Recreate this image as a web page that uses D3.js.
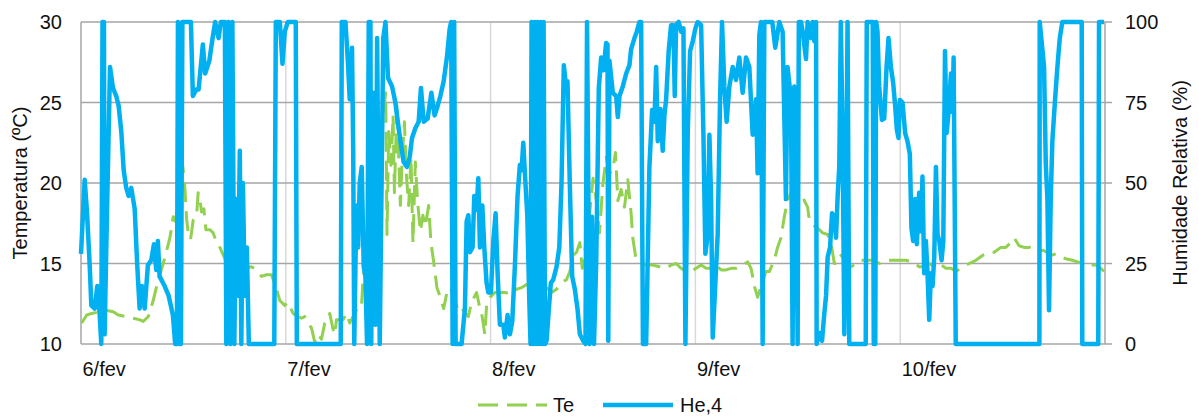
<!DOCTYPE html>
<html>
<meta charset="utf-8">
<title>Te / He,4</title>
<style>
  body { margin: 0; background: #fff; }
  text { font-family: "Liberation Sans", Arial, sans-serif; fill: #111; }
  .grid-h { stroke: #a6a6a6; stroke-width: 1.5; }
  .grid-v { stroke: #d9d9d9; stroke-width: 1.5; }
  .frame { stroke: #a6a6a6; stroke-width: 1.5; }
  .lineTe { fill: none; stroke: #92D050; stroke-width: 3; stroke-dasharray: 20,9; stroke-linejoin: round; }
  .lineHe { fill: none; stroke: #00B0F0; stroke-width: 4.5; stroke-linejoin: round; }
</style>
<body>
<div id="chart"></div>
<script src="https://d3js.org/d3.v7.min.js"></script>
<script>
// hours since 6/fev 00:00
var dayLabels = ["6/fev", "7/fev", "8/fev", "9/fev", "10/fev"];
var dayStarts = [0, 24, 48, 72, 96];
var tempTicks = [10, 15, 20, 25, 30];
var humTicks = [0, 25, 50, 75, 100];

// Te (ºC)
var teData = [[0.08,11.3],[0.67,11.8],[1.25,11.9],[2.22,12.0],[2.93,12.1],[3.78,12.0],[4.37,11.8],[5.35,11.7],[6.12,11.6],[6.91,11.5],[7.29,11.4],[7.88,11.7],[8.46,12.7],[9.05,14.0],[9.64,15.0],[10.03,15.8],[10.42,16.6],[10.81,17.9],[11.09,17.6],[11.39,19.0],[11.91,21.2],[12.18,19.6],[12.37,17.8],[12.56,16.9],[12.84,16.5],[13.15,17.7],[13.55,18.0],[13.73,19.4],[13.93,19.0],[14.13,18.2],[14.40,18.4],[14.63,17.1],[15.10,17.1],[15.49,16.9],[15.89,16.3],[16.27,16.0],[16.86,15.3],[17.44,14.8],[18.03,14.6],[18.61,14.6],[19.20,14.7],[19.98,14.8],[20.57,14.6],[21.15,14.2],[21.74,14.3],[22.33,14.3],[22.91,13.4],[23.30,12.7],[23.88,12.4],[24.27,12.6],[24.85,11.9],[25.44,11.7],[25.84,11.6],[26.22,11.7],[26.61,11.3],[27.01,11.0],[27.40,10.1],[27.78,10.6],[28.18,10.3],[28.57,11.3],[28.95,11.5],[29.15,11.9],[29.54,10.9],[29.74,10.6],[29.94,11.5],[30.71,11.5],[31.11,11.9],[31.49,11.3],[31.88,11.7],[32.46,12.3],[32.86,12.3],[33.05,14.0],[33.45,15.6],[33.83,17.9],[34.22,19.8],[34.62,20.6],[35.00,19.4],[35.39,24.1],[35.71,25.6],[35.86,16.8],[36.06,23.2],[36.33,21.1],[36.57,24.2],[36.73,19.4],[37.03,25.0],[37.23,21.7],[37.43,18.6],[37.62,21.3],[37.90,23.8],[38.13,20.5],[38.40,18.6],[38.67,21.6],[38.90,16.3],[39.18,21.3],[39.45,18.8],[39.77,17.0],[40.07,18.0],[40.35,17.3],[40.74,18.6],[41.01,16.3],[41.33,15.1],[41.71,13.5],[42.11,12.9],[42.50,12.2],[42.88,13.2],[43.28,13.5],[43.67,12.9],[44.25,12.0],[44.64,12.2],[45.39,11.7],[45.77,12.6],[46.36,13.2],[46.75,12.2],[46.95,11.9],[47.33,10.6],[47.53,12.4],[47.92,12.9],[48.50,13.2],[49.09,13.2],[49.67,13.2],[50.46,13.1],[51.04,13.4],[51.63,13.5],[52.21,13.7],[52.80,13.6],[53.74,13.7],[54.56,13.5],[55.14,13.2],[55.73,13.4],[56.31,13.8],[56.90,14.0],[57.28,14.5],[57.68,15.5],[58.07,15.7],[58.46,16.3],[58.74,14.7],[59.24,16.5],[59.59,18.0],[60.00,20.3],[60.38,18.9],[60.76,16.9],[61.15,19.9],[61.55,21.6],[61.93,20.6],[62.32,20.8],[62.63,21.9],[62.91,18.9],[63.30,19.6],[63.69,18.5],[64.08,20.2],[64.47,18.1],[64.66,16.6],[65.06,15.2],[65.44,15.1],[66.23,14.9],[67.01,14.9],[67.79,14.8],[68.57,14.7],[69.15,14.9],[69.74,15.0],[70.33,14.7],[70.91,14.5],[71.50,14.5],[72.08,14.7],[72.67,14.9],[73.26,14.7],[73.84,14.7],[74.42,14.9],[75.01,14.6],[75.59,14.6],[76.18,14.7],[76.76,14.7],[77.54,14.9],[78.13,15.1],[78.52,14.7],[78.91,13.6],[79.29,12.9],[79.69,13.6],[80.28,14.5],[80.66,14.5],[81.24,15.2],[81.63,16.0],[82.03,16.6],[82.42,17.9],[82.80,18.9],[83.20,19.4],[83.59,19.5],[83.98,19.2],[84.38,19.4],[84.77,18.9],[85.15,18.5],[85.35,17.7],[85.74,17.4],[86.33,17.2],[86.91,16.9],[87.50,16.8],[87.89,16.3],[88.28,15.0],[88.67,15.0],[89.07,15.5],[89.65,15.1],[90.24,14.8],[90.82,15.0],[91.21,15.2],[92.00,15.2],[92.76,15.2],[93.54,15.0],[94.33,15.2],[95.11,15.2],[95.88,15.2],[96.67,15.2],[97.45,15.1],[98.22,14.8],[98.81,14.8],[99.40,15.0],[99.99,14.8],[100.58,15.0],[101.36,14.7],[101.95,14.7],[102.53,14.5],[103.31,14.8],[104.09,15.0],[104.87,15.2],[105.65,15.5],[106.43,15.7],[107.02,15.7],[107.79,16.0],[108.38,16.0],[108.77,16.2],[109.35,16.6],[109.93,16.1],[110.52,16.0],[111.10,16.0],[111.69,16.1],[112.27,15.8],[112.86,15.8],[113.64,15.5],[114.23,15.6],[114.82,15.4],[115.40,15.3],[116.18,15.2],[116.77,15.1],[117.36,15.0],[118.14,14.9],[118.93,14.9],[119.51,14.7],[119.88,14.5]];

// He,4 (%)
var heData = [[0,28],[0.43,51],[0.70,41],[1.02,24.5],[1.21,12],[1.60,11],[1.91,18],[2.19,9],[2.38,0],[2.52,100],[2.69,100],[2.77,3],[3.04,40],[3.40,86],[3.75,79.5],[4.13,77],[4.41,74],[4.72,66],[5.00,54],[5.30,48.5],[5.58,46],[5.89,48.5],[6.29,42],[6.59,24.5],[6.87,11],[7.14,18],[7.46,11],[7.84,24.5],[8.23,26],[8.55,31],[8.82,23],[9.01,32],[9.21,21],[9.80,18],[10.27,15],[10.77,9],[11.04,0],[11.24,0],[11.36,100],[11.53,0],[11.71,0],[11.88,100],[12.88,100],[13.11,77],[13.50,79],[13.78,79],[14.28,93],[14.55,84],[15.04,88],[15.42,95],[15.72,100],[16.12,95],[16.39,100],[16.86,100],[17.03,0],[17.27,100],[17.50,0],[17.74,100],[17.97,0],[18.15,45],[18.38,15],[18.61,60],[18.79,0],[18.97,50],[19.20,15],[19.43,30],[19.67,0],[22.65,0],[22.83,100],[23.30,100],[23.61,87],[23.88,97],[24.23,100],[25.17,100],[25.29,0],[30.44,0],[30.56,100],[30.99,100],[31.29,87],[31.49,76],[31.76,92],[31.90,60],[32.02,0],[32.27,43],[32.48,30],[32.66,50],[32.90,55],[33.13,24],[33.33,21],[33.52,0],[33.72,100],[33.92,100],[34.01,0],[34.23,78],[34.51,6],[34.70,95],[35.01,0],[35.42,95],[35.68,100],[35.98,82.6],[36.45,80],[36.84,75],[37.03,71],[37.43,63],[37.81,56.5],[38.20,55],[38.52,58],[38.79,64],[39.18,67],[39.57,69],[39.84,79.5],[40.16,69],[40.62,70],[41.06,78],[41.44,71],[41.80,74],[42.11,77],[42.50,81.6],[42.88,89],[43.20,97.8],[43.38,100],[43.55,0],[43.73,100],[43.90,0],[44.60,0],[44.99,11],[45.19,38],[45.39,40],[45.58,28.5],[45.89,30],[46.09,46],[46.36,41.6],[46.56,51.5],[46.75,30],[47.03,43],[47.26,30],[47.53,19],[47.73,16],[48.04,16],[48.32,32],[48.59,40.6],[48.82,22],[49.09,6],[49.49,6],[49.67,2],[49.99,9],[50.26,3],[50.54,7],[50.85,24.5],[51.16,46],[51.43,55.6],[51.63,54],[51.83,62.5],[52.02,53],[52.30,40],[52.53,14],[52.68,0],[52.80,100],[52.98,0],[53.15,100],[53.33,0],[53.50,100],[53.68,0],[53.85,100],[54.03,0],[54.21,100],[54.38,0],[54.56,1],[54.83,11],[55.06,19],[55.34,20],[55.73,24],[56.05,30],[56.31,50],[56.58,86.6],[56.78,81.6],[57.01,81.6],[57.28,50],[57.56,21],[57.87,17],[58.18,11],[58.46,3],[58.85,1],[59.12,0],[59.30,100],[59.59,0],[59.88,39.5],[60.12,0],[60.38,26],[60.68,79.5],[60.96,89],[61.23,85],[61.54,93.5],[61.70,93],[61.79,1],[61.93,88],[62.32,78],[62.72,77],[62.91,70.5],[63.10,77],[63.49,80],[63.89,84],[64.27,86.6],[64.47,91.6],[64.86,95],[65.13,97],[65.44,100],[65.64,100],[65.85,0],[66.23,0],[66.61,55],[66.93,72.7],[67.20,69],[67.40,86],[67.59,63],[67.90,73],[68.17,60],[68.37,71],[68.57,76],[68.87,91],[69.15,99],[69.42,99],[69.58,77],[69.74,99],[70.04,100],[70.33,97],[70.60,98],[70.83,0],[71.10,65.5],[71.38,91],[71.69,94],[72.00,98],[72.27,100],[72.67,99],[72.94,65],[73.17,28],[73.44,34],[73.64,65],[73.84,45],[74.03,2],[74.34,19],[74.61,34],[74.89,76],[75.12,100],[75.39,80],[75.66,69],[75.98,80],[76.37,86],[76.76,82],[77.15,89],[77.54,78],[77.93,89],[78.32,86],[78.71,65],[79.11,76],[79.29,53],[79.49,96],[79.69,100],[79.88,0],[80.08,100],[80.66,100],[81.01,100],[81.36,92],[81.83,100],[82.22,97],[82.61,45],[82.80,86],[83.20,76],[83.39,0],[83.59,80],[83.79,76],[83.98,0],[84.12,100],[84.38,100],[84.57,97],[84.96,88.5],[85.15,100],[85.55,95],[85.74,100],[85.94,94],[86.14,100],[86.21,0],[86.52,3.4],[86.84,1],[87.11,9.6],[87.31,15],[87.50,27],[87.78,30],[88.01,40.6],[88.28,39.5],[88.48,33],[88.67,46],[88.86,55],[89.04,100],[89.25,65],[89.45,3],[89.65,40],[89.83,100],[90.03,0],[91.96,0],[92.08,100],[92.78,100],[92.90,0],[93.08,0],[93.19,100],[93.34,97],[93.54,80],[93.86,69.6],[94.13,70],[94.40,86],[94.63,95],[94.91,86],[95.18,81],[95.41,74],[95.61,66.5],[95.80,64],[95.96,75.8],[96.27,75],[96.58,65.5],[96.85,63],[97.13,59],[97.32,36],[97.52,32],[97.75,45],[97.95,31],[98.22,47],[98.42,35],[98.61,52],[98.81,22],[99.01,32],[99.20,22],[99.40,7.5],[99.60,22],[99.79,18],[99.99,27],[100.19,55],[100.38,34],[100.58,32],[100.85,26],[101.05,32],[101.25,91],[101.44,65.5],[101.67,72],[101.95,84],[102.14,72],[102.26,89],[102.51,0],[112.31,0],[112.35,100],[112.86,86],[113.06,56],[113.25,45],[113.44,10.5],[113.64,45],[113.83,63],[114.15,76],[114.42,86],[114.70,95],[115.00,100],[117.27,100],[117.34,0],[119.21,0],[119.30,100],[119.88,100]];

var seriesNames = ["Te", "He,4"];

var width = 1199, height = 417;
var margin = {top: 22, right: 94, bottom: 73, left: 81};

var svg = d3.select("#chart").append("svg")
    .attr("width", width)
    .attr("height", height);

var x = d3.scaleLinear().domain([0, 120]).range([margin.left, width - margin.right]);
var yT = d3.scaleLinear().domain([10, 30]).range([height - margin.bottom, margin.top]);
var yH = d3.scaleLinear().domain([0, 100]).range([height - margin.bottom, margin.top]);

// vertical day gridlines
svg.append("g").selectAll("line")
    .data(dayStarts.slice(1))
  .enter().append("line")
    .attr("class", "grid-v")
    .attr("x1", function(d) { return x(d); })
    .attr("x2", function(d) { return x(d); })
    .attr("y1", yT(10))
    .attr("y2", yT(30));

// horizontal gridlines (extend a little right, like tick marks of the right axis)
svg.append("g").selectAll("line")
    .data(tempTicks)
  .enter().append("line")
    .attr("class", "grid-h")
    .attr("x1", x(0))
    .attr("x2", x(120) + 7)
    .attr("y1", function(d) { return yT(d); })
    .attr("y2", function(d) { return yT(d); });

// left and right frame lines
svg.append("g").selectAll("line")
    .data([0, 120])
  .enter().append("line")
    .attr("class", "frame")
    .attr("x1", function(d) { return x(d); })
    .attr("x2", function(d) { return x(d); })
    .attr("y1", yT(10))
    .attr("y2", yT(30));

// series
var lineTe = d3.line().x(function(d) { return x(d[0]); }).y(function(d) { return yT(d[1]); });
var lineHe = d3.line().x(function(d) { return x(d[0]); }).y(function(d) { return yH(d[1]); });

svg.append("path").datum(teData).attr("class", "lineTe").attr("d", lineTe);
svg.append("path").datum(heData).attr("class", "lineHe").attr("d", lineHe);

// left axis labels
svg.append("g").selectAll("text")
    .data(tempTicks)
  .enter().append("text")
    .attr("x", x(0) - 19)
    .attr("y", function(d) { return yT(d); })
    .attr("dy", "0.35em")
    .attr("text-anchor", "end")
    .style("font-size", "20px")
    .text(function(d) { return d; });

// right axis labels
svg.append("g").selectAll("text")
    .data(humTicks)
  .enter().append("text")
    .attr("x", x(120) + 20)
    .attr("y", function(d) { return yH(d); })
    .attr("dy", "0.35em")
    .attr("text-anchor", "start")
    .style("font-size", "20px")
    .text(function(d) { return d; });

// x axis labels
var xAxis = d3.axisBottom(x)
    .tickValues(dayStarts)
    .tickSize(0)
    .tickFormat(function(d, i) { return dayLabels[i]; });

var gx = svg.append("g")
    .attr("transform", "translate(0," + (height - margin.bottom) + ")")
    .call(xAxis);
gx.select(".domain").remove();
gx.selectAll("text")
    .attr("text-anchor", "start")
    .attr("x", 1)
    .attr("y", 18)
    .attr("dy", "0.71em")
    .style("font-family", "'Liberation Sans', Arial, sans-serif")
    .style("font-size", "20px")
    .style("fill", "#111");

// axis titles
svg.append("text")
    .attr("transform", "translate(20," + yT(20) + ") rotate(-90)")
    .attr("text-anchor", "middle")
    .attr("dy", "0.35em")
    .style("font-size", "20px")
    .text("Temperatura (ºC)");

svg.append("text")
    .attr("transform", "translate(1180," + yH(50) + ") rotate(-90)")
    .attr("text-anchor", "middle")
    .attr("dy", "0.35em")
    .style("font-size", "20px")
    .text("Humidade Relativa (%)");

// legend
var legend = svg.append("g").attr("transform", "translate(0,405)");
legend.append("line").attr("class", "lineTe").attr("x1", 478).attr("x2", 547).attr("y1", 0).attr("y2", 0);
legend.append("text").attr("x", 553).attr("dy", "0.35em").style("font-size", "20px").text(seriesNames[0]);
legend.append("line").attr("class", "lineHe").attr("x1", 603).attr("x2", 673).attr("y1", 0).attr("y2", 0);
legend.append("text").attr("x", 680).attr("dy", "0.35em").style("font-size", "20px").text(seriesNames[1]);
</script>
</body>
</html>
